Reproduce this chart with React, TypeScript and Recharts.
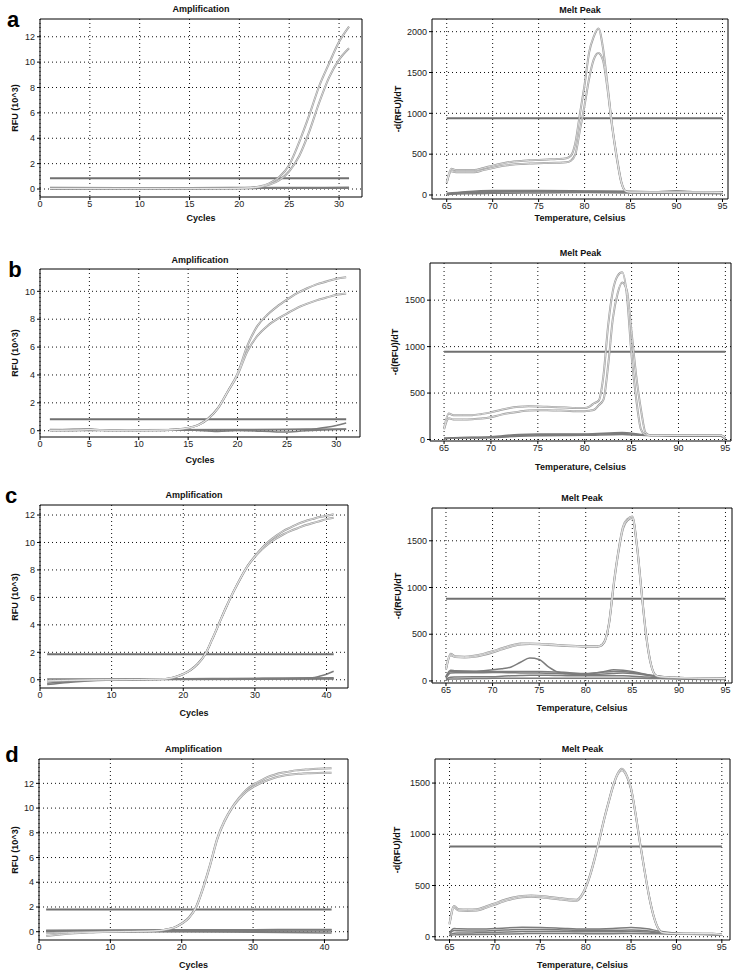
import React from 'react'
import { CartesianGrid, Line, LineChart, XAxis, YAxis } from 'recharts'

// ---------- panel a ----------
const cyclesA = [1, 2, 3, 4, 5, 6, 7, 8, 9, 10, 11, 12, 13, 14, 15, 16, 17, 18, 19, 20, 21, 22, 23, 24, 25, 26, 27, 28, 29, 30, 31]
const ampA1 = [0.05, 0.05, 0.05, 0.05, 0.05, 0.05, 0.05, 0.05, 0.05, 0.05, 0.05, 0.05, 0.05, 0.05, 0.05, 0.05, 0.05, 0.05, 0.05, 0.06, 0.1, 0.2, 0.45, 0.95, 1.9, 3.7, 5.8, 8.1, 9.9, 11.6, 12.8]
const ampA2 = [0.04, 0.04, 0.04, 0.04, 0.04, 0.04, 0.04, 0.04, 0.04, 0.04, 0.04, 0.04, 0.04, 0.04, 0.04, 0.04, 0.04, 0.04, 0.04, 0.05, 0.08, 0.15, 0.35, 0.7, 1.4, 2.6, 4.5, 6.8, 8.8, 10.2, 11.1]
const baseCycA = [1, 8, 15, 22, 31]
const ampBaseA1 = [0.0, 0.02, 0.03, 0.05, 0.06]
const ampBaseA2 = [0.08, 0.07, 0.08, 0.09, 0.1]
const ampBaseA3 = [0.12, 0.1, 0.1, 0.12, 0.13]
const thrAmpA = 0.85

const tempA = [65, 65.5, 66, 67, 68, 69, 70, 71, 72, 73, 74, 75, 76, 77, 78, 78.5, 79, 79.5, 80, 80.5, 81, 81.5, 82, 82.5, 83, 83.5, 84, 84.5, 85, 87, 90, 93, 95]
const meltA1 = [150, 320, 305, 305, 305, 330, 360, 385, 405, 415, 425, 430, 435, 440, 450, 480, 640, 1000, 1350, 1750, 1940, 2040, 1800, 1340, 850, 470, 160, 45, 35, 35, 35, 35, 30]
const meltA2 = [150, 290, 280, 280, 280, 305, 330, 355, 370, 380, 385, 390, 392, 395, 400, 420, 500, 800, 1100, 1430, 1660, 1740, 1650, 1290, 830, 450, 150, 45, 35, 35, 35, 35, 30]
const baseTempA = [65, 67, 70, 75, 80, 85, 88, 90, 92, 95]
const meltBaseA1 = [10, 30, 45, 50, 45, 40, 35, 45, 35, 30]
const meltBaseA2 = [15, 25, 35, 40, 40, 35, 30, 35, 30, 25]
const meltBaseA3 = [5, 15, 20, 25, 30, 25, 20, 25, 20, 15]
const meltBaseA4 = [20, 40, 55, 55, 50, 45, 40, 50, 40, 20]
const thrMeltA = 940

// ---------- panel b ----------
const cyclesB = [1, 2, 3, 4, 5, 6, 7, 8, 9, 10, 11, 12, 13, 14, 15, 16, 17, 18, 19, 20, 21, 22, 23, 24, 25, 26, 27, 28, 29, 30, 31]
const ampB1 = [0.03, 0.03, 0.04, 0.05, 0.08, 0.05, 0.03, 0.03, 0.04, 0.03, 0.03, 0.04, 0.06, 0.1, 0.2, 0.4, 0.85, 1.6, 2.8, 4.1, 6.1, 7.5, 8.3, 8.9, 9.4, 9.85, 10.2, 10.5, 10.7, 10.9, 11.0]
const ampB2 = [0.03, 0.03, 0.04, 0.05, 0.08, 0.05, 0.03, 0.03, 0.04, 0.03, 0.03, 0.04, 0.06, 0.1, 0.2, 0.4, 0.85, 1.6, 2.8, 4.0, 5.7, 6.8, 7.5, 8.0, 8.4, 8.8, 9.1, 9.35, 9.55, 9.75, 9.85]
const baseCycB1 = [1, 5, 6, 10, 15, 18, 20, 25, 26, 31]
const ampBaseB1 = [0.03, 0.12, 0.03, 0.02, 0.05, -0.05, 0.02, -0.1, -0.05, 0.1]
const baseCycB2 = [1, 10, 20, 31]
const ampBaseB2 = [0.08, 0.07, 0.08, 0.12]
const baseCycB3 = [1, 10, 20, 27, 28, 29, 30, 31]
const ampBaseB3 = [0.02, 0.03, 0.05, 0.1, 0.15, 0.25, 0.38, 0.55]
const thrAmpB = 0.82

const tempB = [65, 65.5, 66, 67, 68, 69, 70, 71, 72, 73, 74, 75, 76, 77, 78, 79, 80, 80.5, 81, 81.5, 82, 82.5, 83, 83.5, 84, 84.5, 85, 85.5, 86, 86.5, 87, 88, 90, 92, 94, 94.5, 95]
const meltB1 = [120, 280, 262, 262, 262, 275, 292, 318, 340, 352, 358, 356, 352, 348, 344, 340, 340, 355, 390, 420, 690, 1230, 1600, 1760, 1800, 1550, 900, 430, 110, 50, 45, 45, 45, 45, 45, 45, 10]
const meltB2 = [110, 230, 215, 215, 218, 225, 240, 265, 285, 300, 312, 315, 315, 312, 310, 305, 305, 310, 320, 370, 430, 800, 1300, 1570, 1690, 1600, 1150, 680, 320, 70, 45, 45, 45, 45, 45, 45, 10]
const baseTempB = [65, 66, 70, 73, 75, 80, 84, 86, 88, 90, 94.5, 95]
const meltBaseB1 = [10, 20, 30, 55, 60, 60, 75, 55, 45, 45, 45, 5]
const meltBaseB2 = [15, 20, 25, 45, 50, 55, 65, 50, 45, 40, 40, 5]
const meltBaseB3 = [5, 15, 20, 35, 40, 45, 55, 45, 40, 35, 35, 5]
const thrMeltB = 945

// ---------- panel c ----------
const cyclesC = [1, 2, 3, 4, 5, 6, 7, 8, 9, 10, 11, 12, 13, 14, 15, 16, 17, 18, 19, 20, 21, 22, 23, 24, 25, 26, 27, 28, 29, 30, 31, 32, 33, 34, 35, 36, 37, 38, 39, 40, 41]
const ampC1 = [-0.08, -0.06, -0.05, -0.04, -0.03, -0.02, -0.01, 0, 0, 0, 0.01, 0.01, 0.02, 0.02, 0.03, 0.04, 0.05, 0.1, 0.22, 0.42, 0.7, 1.15, 1.8, 2.9, 4.1, 5.3, 6.4, 7.4, 8.3, 9.0, 9.6, 10.1, 10.5, 10.85, 11.1, 11.35, 11.55, 11.7, 11.85, 11.95, 12.05]
const ampC2 = [-0.1, -0.08, -0.06, -0.05, -0.04, -0.03, -0.02, -0.01, 0, 0, 0.01, 0.01, 0.02, 0.02, 0.03, 0.04, 0.05, 0.1, 0.22, 0.42, 0.7, 1.15, 1.8, 2.9, 4.1, 5.3, 6.4, 7.4, 8.3, 8.95, 9.5, 9.95, 10.3, 10.6, 10.85, 11.05, 11.25, 11.4, 11.55, 11.7, 11.8]
const baseCycC1 = [1, 4, 8, 20, 30, 41]
const ampBaseC1 = [-0.35, -0.2, -0.05, 0.05, 0.05, 0.1]
const baseCycC2 = [1, 5, 9, 41]
const ampBaseC2 = [-0.25, -0.1, 0, 0.15]
const baseCycC3 = [1, 6, 41]
const ampBaseC3 = [-0.1, 0, 0.05]
const baseCycC4 = [1, 10, 20, 30, 38, 39, 40, 41]
const ampBaseC4 = [0.05, 0.05, 0.08, 0.1, 0.15, 0.25, 0.4, 0.62]
const thrAmpC = 1.85

const tempC = [65, 65.5, 66, 67, 68, 69, 70, 71, 72, 73, 74, 75, 76, 77, 78, 79, 80, 81, 81.5, 82, 82.5, 83, 83.5, 84, 84.5, 85, 85.5, 86, 86.5, 87, 87.5, 88, 90, 92, 95]
const meltC1 = [130, 290, 265, 260, 270, 290, 318, 350, 380, 400, 402, 398, 392, 386, 380, 375, 370, 370, 375, 420, 620, 1040, 1390, 1650, 1735, 1760, 1450, 950, 480, 180, 60, 45, 35, 30, 25]
const meltC2 = [120, 275, 255, 250, 258, 278, 305, 338, 368, 390, 395, 392, 386, 380, 374, 370, 366, 366, 372, 415, 610, 1020, 1370, 1630, 1720, 1745, 1440, 940, 470, 175, 60, 45, 35, 30, 25]
const baseTempC = [65, 65.5, 66, 68, 70, 71, 72, 73, 74, 75, 76, 77, 78, 80, 82, 83, 84, 85, 86, 88, 90, 95]
const meltBaseC1 = [50, 115, 110, 105, 120, 130, 150, 200, 245, 230, 150, 95, 80, 75, 100, 120, 115, 100, 80, 40, 30, 20]
const meltBaseC2 = [40, 100, 100, 100, 100, 100, 100, 102, 102, 100, 98, 95, 90, 80, 95, 100, 100, 90, 75, 50, 30, 20]
const meltBaseC3 = [30, 85, 88, 88, 90, 90, 88, 86, 85, 85, 83, 80, 75, 70, 75, 80, 85, 80, 70, 45, 30, 25]
const meltBaseC4 = [20, 40, 42, 45, 45, 50, 55, 58, 60, 60, 60, 58, 56, 55, 55, 55, 55, 50, 45, 35, 30, 20]
const meltBaseC5 = [10, 20, 22, 25, 28, 30, 30, 30, 30, 30, 30, 30, 30, 30, 30, 30, 30, 30, 30, 25, 20, 15]
const thrMeltC = 880

// ---------- panel d ----------
const cyclesD = [1, 2, 3, 4, 5, 6, 7, 8, 9, 10, 11, 12, 13, 14, 15, 16, 17, 18, 19, 20, 21, 22, 23, 24, 25, 26, 27, 28, 29, 30, 31, 32, 33, 34, 35, 36, 37, 38, 39, 40, 41]
const ampD1 = [-0.35, -0.28, -0.22, -0.17, -0.13, -0.1, -0.07, -0.05, -0.03, -0.01, 0, 0.01, 0.02, 0.03, 0.04, 0.06, 0.1, 0.2, 0.35, 0.67, 1.15, 2.0, 3.6, 5.5, 7.6, 9.0, 10.0, 10.8, 11.45, 11.9, 12.2, 12.5, 12.7, 12.85, 12.95, 13.05, 13.1, 13.15, 13.18, 13.2, 13.22]
const ampD2 = [-0.12, -0.1, -0.08, -0.07, -0.05, -0.04, -0.03, -0.02, -0.01, 0, 0, 0.01, 0.02, 0.03, 0.04, 0.06, 0.1, 0.2, 0.35, 0.65, 1.1, 1.95, 3.5, 5.4, 7.5, 8.9, 9.95, 10.7, 11.3, 11.7, 12.0, 12.25, 12.45, 12.6, 12.7, 12.75, 12.8, 12.82, 12.84, 12.85, 12.86]
const baseCycD = [1, 20, 41]
const ampBaseD1 = [0.0, 0.02, 0.05]
const ampBaseD2 = [0.08, 0.1, 0.15]
const ampBaseD3 = [0.05, 0.0, -0.1]
const ampBaseD4 = [0.12, 0.15, 0.18]
const thrAmpD = 1.8

const tempD = [65, 65.5, 66, 67, 68, 69, 70, 71, 72, 73, 74, 75, 76, 77, 78, 79, 79.5, 80, 80.5, 81, 81.5, 82, 82.5, 83, 83.5, 84, 84.5, 85, 85.5, 86, 86.5, 87, 87.5, 88, 88.5, 90, 92, 94, 95]
const meltD1 = [130, 300, 268, 265, 268, 295, 326, 358, 382, 398, 402, 398, 388, 378, 368, 362, 400, 485, 610, 770, 950, 1140, 1310, 1470, 1590, 1640, 1580, 1450, 1200, 910, 640, 390, 200, 80, 40, 30, 30, 30, 20]
const meltD2 = [120, 285, 255, 252, 256, 282, 314, 346, 370, 386, 390, 386, 376, 366, 356, 350, 390, 475, 600, 760, 940, 1130, 1300, 1460, 1580, 1625, 1570, 1440, 1195, 905, 635, 385, 195, 78, 40, 30, 30, 30, 20]
const baseTempD = [65, 65.5, 66, 68, 70, 73, 75, 78, 80, 83, 85, 87, 88, 90, 93, 95]
const meltBaseD1 = [40, 80, 78, 75, 80, 92, 90, 80, 75, 80, 90, 75, 55, 35, 30, 25]
const meltBaseD2 = [30, 60, 58, 55, 60, 70, 70, 65, 62, 62, 65, 55, 45, 32, 28, 20]
const meltBaseD3 = [20, 35, 36, 38, 42, 50, 52, 50, 48, 48, 50, 45, 38, 30, 25, 18]
const meltBaseD4 = [10, 18, 20, 22, 25, 30, 32, 32, 30, 30, 32, 30, 28, 25, 22, 15]
const thrMeltD = 880

// ---------- ticks ----------
const cycTicks31 = [0, 5, 10, 15, 20, 25, 30]
const cycTicks41 = [0, 10, 20, 30, 40]
const rfuTicks12 = [0, 2, 4, 6, 8, 10, 12]
const rfuTicks10 = [0, 2, 4, 6, 8, 10]
const tempTicks = [65, 70, 75, 80, 85, 90, 95]
const dTicks2000 = [0, 500, 1000, 1500, 2000]
const dTicks1500 = [0, 500, 1000, 1500]

const range = (a: number, b: number, s: number) => {
  const out: number[] = []
  for (let v = a; v <= b + 1e-9; v += s) out.push(Math.round(v * 100) / 100)
  return out
}

type Curve = { x: number[]; y: number[] }
type Panel = {
  box: [number, number, number, number]
  xDomain: [number, number]
  yDomain: [number, number]
  xTicks: number[]
  yTicks: number[]
  xMinor: number[]
  yMinor: number[]
  curves: Curve[]
  bases: Curve[]
  thr: number
  thrX: [number, number]
  title: string
  titleY: number
  xLabel: string
  xLabelY: number
  yLabel: string
  yLabelX: number
}

const pts = (c: Curve) => c.x.map((x, i) => ({ x, y: c.y[i] }))

const AMP = 'Amplification'
const MELT = 'Melt Peak'
const CYC = 'Cycles'
const TEMP = 'Temperature, Celsius'
const RFU = 'RFU (10^3)'
const DRFU = '-d(RFU)/dT'

const panels: Panel[] = [
  {
    box: [40, 19, 362, 197], xDomain: [0, 32.3], yDomain: [-0.63, 13.4],
    xTicks: cycTicks31, yTicks: rfuTicks12, xMinor: range(0, 32, 1), yMinor: range(-0.5, 13, 0.5),
    curves: [{ x: cyclesA, y: ampA1 }, { x: cyclesA, y: ampA2 }],
    bases: [{ x: baseCycA, y: ampBaseA1 }, { x: baseCycA, y: ampBaseA2 }, { x: baseCycA, y: ampBaseA3 }],
    thr: thrAmpA, thrX: [cyclesA[0], cyclesA[cyclesA.length - 1]],
    title: AMP, titleY: 9, xLabel: CYC, xLabelY: 218, yLabel: RFU, yLabelX: 15,
  },
  {
    box: [432, 19, 728, 199], xDomain: [63.4, 95.6], yDomain: [-49, 2155],
    xTicks: tempTicks, yTicks: dTicks2000, xMinor: range(64, 95, 1), yMinor: range(0, 2100, 100),
    curves: [{ x: tempA, y: meltA1 }, { x: tempA, y: meltA2 }],
    bases: [{ x: baseTempA, y: meltBaseA1 }, { x: baseTempA, y: meltBaseA2 }, { x: baseTempA, y: meltBaseA3 }, { x: baseTempA, y: meltBaseA4 }],
    thr: thrMeltA, thrX: [tempA[0], tempA[tempA.length - 1]],
    title: MELT, titleY: 10, xLabel: TEMP, xLabelY: 218, yLabel: DRFU, yLabelX: 398,
  },
  {
    box: [40, 269, 360, 437], xDomain: [0, 32.4], yDomain: [-0.45, 11.6],
    xTicks: cycTicks31, yTicks: rfuTicks10, xMinor: range(0, 32, 1), yMinor: range(0, 11.5, 0.5),
    curves: [{ x: cyclesB, y: ampB1 }, { x: cyclesB, y: ampB2 }],
    bases: [{ x: baseCycB1, y: ampBaseB1 }, { x: baseCycB2, y: ampBaseB2 }, { x: baseCycB3, y: ampBaseB3 }],
    thr: thrAmpB, thrX: [cyclesB[0], cyclesB[cyclesB.length - 1]],
    title: AMP, titleY: 260, xLabel: CYC, xLabelY: 460, yLabel: RFU, yLabelX: 15,
  },
  {
    box: [430, 263, 731, 441], xDomain: [63.5, 95.6], yDomain: [-16, 1900],
    xTicks: tempTicks, yTicks: dTicks1500, xMinor: range(64, 95, 1), yMinor: range(0, 1800, 100),
    curves: [{ x: tempB, y: meltB1 }, { x: tempB, y: meltB2 }],
    bases: [{ x: baseTempB, y: meltBaseB1 }, { x: baseTempB, y: meltBaseB2 }, { x: baseTempB, y: meltBaseB3 }],
    thr: thrMeltB, thrX: [tempB[0], tempB[tempB.length - 1]],
    title: MELT, titleY: 253, xLabel: TEMP, xLabelY: 467, yLabel: DRFU, yLabelX: 395,
  },
  {
    box: [40, 505, 348, 688], xDomain: [0, 43.0], yDomain: [-0.6, 12.73],
    xTicks: cycTicks41, yTicks: rfuTicks12, xMinor: range(0, 42, 2), yMinor: range(-0.5, 12.5, 0.5),
    curves: [{ x: cyclesC, y: ampC1 }, { x: cyclesC, y: ampC2 }],
    bases: [{ x: baseCycC1, y: ampBaseC1 }, { x: baseCycC2, y: ampBaseC2 }, { x: baseCycC3, y: ampBaseC3 }, { x: baseCycC4, y: ampBaseC4 }],
    thr: thrAmpC, thrX: [cyclesC[0], cyclesC[cyclesC.length - 1]],
    title: AMP, titleY: 495, xLabel: CYC, xLabelY: 713, yLabel: RFU, yLabelX: 15,
  },
  {
    box: [432, 508, 732, 683], xDomain: [63.5, 95.7], yDomain: [-22, 1851],
    xTicks: tempTicks, yTicks: dTicks1500, xMinor: range(64, 95, 1), yMinor: range(0, 1800, 100),
    curves: [{ x: tempC, y: meltC1 }, { x: tempC, y: meltC2 }],
    bases: [{ x: baseTempC, y: meltBaseC1 }, { x: baseTempC, y: meltBaseC2 }, { x: baseTempC, y: meltBaseC3 }, { x: baseTempC, y: meltBaseC4 }, { x: baseTempC, y: meltBaseC5 }],
    thr: thrMeltC, thrX: [tempC[0], tempC[tempC.length - 1]],
    title: MELT, titleY: 498, xLabel: TEMP, xLabelY: 708, yLabel: DRFU, yLabelX: 398,
  },
  {
    box: [39, 759, 348, 940], xDomain: [0, 43.3], yDomain: [-0.67, 13.97],
    xTicks: cycTicks41, yTicks: rfuTicks12, xMinor: range(0, 42, 2), yMinor: range(-0.5, 13.5, 0.5),
    curves: [{ x: cyclesD, y: ampD1 }, { x: cyclesD, y: ampD2 }],
    bases: [{ x: baseCycD, y: ampBaseD1 }, { x: baseCycD, y: ampBaseD2 }, { x: baseCycD, y: ampBaseD3 }, { x: baseCycD, y: ampBaseD4 }],
    thr: thrAmpD, thrX: [cyclesD[0], cyclesD[cyclesD.length - 1]],
    title: AMP, titleY: 749, xLabel: CYC, xLabelY: 965, yLabel: RFU, yLabelX: 15,
  },
  {
    box: [435, 759, 730, 940], xDomain: [63.4, 95.9], yDomain: [-32, 1735],
    xTicks: tempTicks, yTicks: dTicks1500, xMinor: range(64, 95, 1), yMinor: range(0, 1700, 100),
    curves: [{ x: tempD, y: meltD1 }, { x: tempD, y: meltD2 }],
    bases: [{ x: baseTempD, y: meltBaseD1 }, { x: baseTempD, y: meltBaseD2 }, { x: baseTempD, y: meltBaseD3 }, { x: baseTempD, y: meltBaseD4 }],
    thr: thrMeltD, thrX: [tempD[0], tempD[tempD.length - 1]],
    title: MELT, titleY: 749, xLabel: TEMP, xLabelY: 965, yLabel: DRFU, yLabelX: 397,
  },
]

const letters = [
  { t: 'a', x: 13, y: 20 },
  { t: 'b', x: 15, y: 270 },
  { t: 'c', x: 11, y: 496 },
  { t: 'd', x: 12, y: 755 },
]

const FONT = '"Liberation Sans", Arial, sans-serif'
const tickStyle = { fontSize: 9, fill: '#222', fontFamily: FONT }
const PADL = 38
const PADT = 4
const PADR = 6
const PADB = 20

function QpcrPanel({ p, idx }: { p: Panel; idx: number }) {
  const [l, t, r, b] = p.box
  const w = r - l + PADL + PADR
  const h = b - t + PADT + PADB
  const cx = (l + r) / 2
  const cy = (t + b) / 2
  const common = { xAxisId: 'x', yAxisId: 'y', dataKey: 'y', dot: false, isAnimationActive: false, activeDot: false }
  return (
    <>
      <div style={{ position: 'absolute', left: l - PADL, top: t - PADT }}>
        <LineChart width={w} height={h} margin={{ top: PADT, right: PADR, bottom: PADB - 16, left: PADL - 34 }}>
          <CartesianGrid xAxisId="x" yAxisId="y" stroke="#111" strokeDasharray="1 3" verticalValues={p.xTicks} horizontalValues={p.yTicks} />
          <XAxis xAxisId="x" type="number" dataKey="x" domain={p.xDomain} allowDataOverflow ticks={p.xTicks} interval={0}
            height={16} tickSize={3} tickMargin={1} tick={tickStyle} stroke="#000" />
          <XAxis xAxisId="xb" type="number" dataKey="x" domain={p.xDomain} allowDataOverflow ticks={p.xMinor} interval={0}
            mirror height={1} tickSize={3} tick={false} axisLine={false} stroke="#000" />
          <XAxis xAxisId="xt" orientation="top" type="number" dataKey="x" domain={p.xDomain} allowDataOverflow ticks={p.xMinor} interval={0}
            mirror height={1} tickSize={3} tick={false} stroke="#000" />
          <YAxis yAxisId="y" type="number" domain={p.yDomain} allowDataOverflow ticks={p.yTicks} interval={0}
            width={34} tickSize={3} tickMargin={2} tick={tickStyle} stroke="#000" />
          <YAxis yAxisId="yl" type="number" domain={p.yDomain} allowDataOverflow ticks={p.yMinor} interval={0}
            mirror width={1} tickSize={3} tick={false} axisLine={false} stroke="#000" />
          <YAxis yAxisId="yr" orientation="right" type="number" domain={p.yDomain} allowDataOverflow ticks={p.yMinor} interval={0}
            mirror width={1} tickSize={3} tick={false} stroke="#000" />
          {p.bases.map((c, i) => (
            <Line key={`b${idx}-${i}`} {...common} data={pts(c)} type="monotone" stroke="#7c7c7c" strokeWidth={1.5} />
          ))}
          <Line key={`t${idx}`} {...common} data={pts({ x: p.thrX, y: [p.thr, p.thr] })} type="linear" stroke="#707070" strokeWidth={2} />
          {p.curves.map((c, i) => (
            <Line key={`co${idx}-${i}`} {...common} data={pts(c)} type="monotone" stroke="#999999" strokeWidth={2} />
          ))}
          {p.curves.map((c, i) => (
            <Line key={`ci${idx}-${i}`} {...common} data={pts(c)} type="monotone" stroke="#f2f2f2" strokeWidth={0.7} />
          ))}
        </LineChart>
      </div>
      <div style={{ ...labelStyle, left: cx, top: p.titleY }}>{p.title}</div>
      <div style={{ ...labelStyle, left: cx, top: p.xLabelY }}>{p.xLabel}</div>
      <div style={{ ...labelStyle, left: p.yLabelX, top: cy, transform: 'translate(-50%, -50%) rotate(-90deg)' }}>{p.yLabel}</div>
    </>
  )
}

const labelStyle: React.CSSProperties = {
  position: 'absolute',
  transform: 'translate(-50%, -50%)',
  whiteSpace: 'nowrap',
  fontFamily: FONT,
  fontWeight: 'bold',
  fontSize: 9,
  color: '#111',
  lineHeight: 1,
}

export default function App() {
  return (
    <div style={{ position: 'absolute', left: 0, top: 0, width: 738, height: 971, background: '#fff', overflow: 'hidden', fontFamily: FONT }}>
      {panels.map((p, i) => (
        <QpcrPanel key={i} p={p} idx={i} />
      ))}
      {letters.map((l) => (
        <div key={l.t} style={{ ...labelStyle, left: l.x, top: l.y, fontSize: 22, color: '#000' }}>{l.t}</div>
      ))}
    </div>
  )
}
